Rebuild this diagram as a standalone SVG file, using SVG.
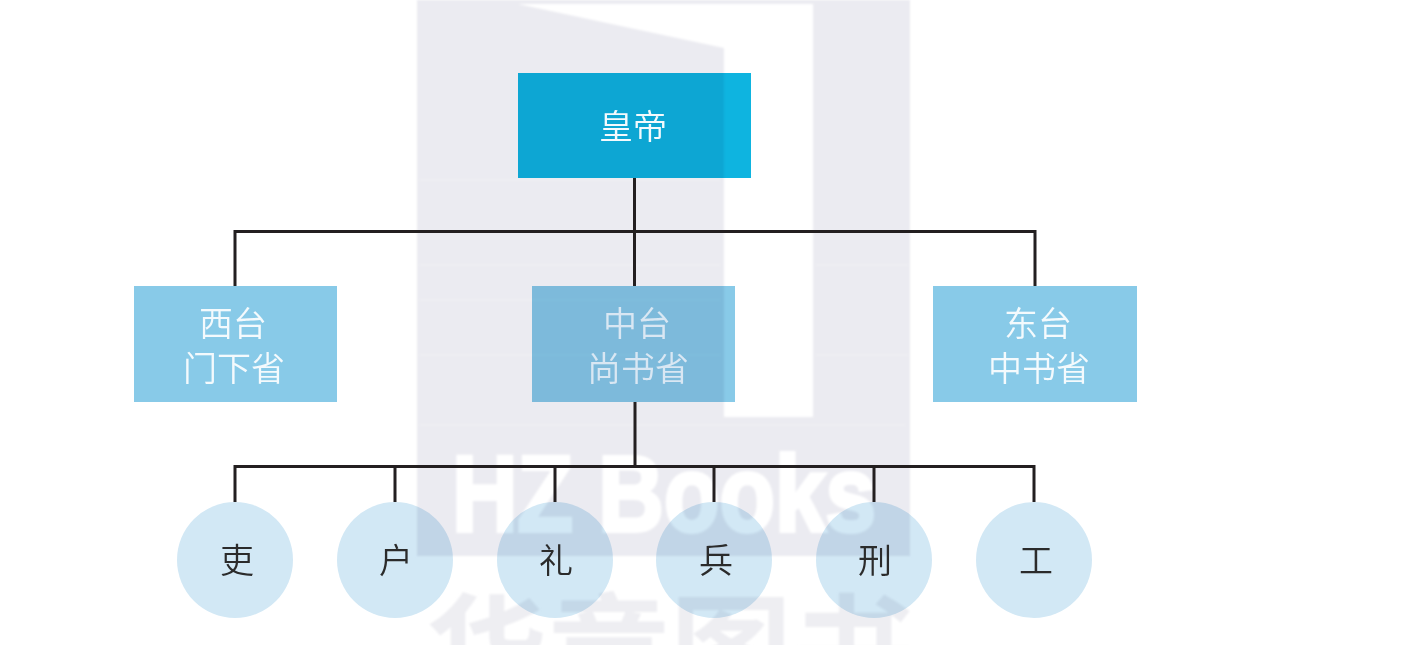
<svg xmlns="http://www.w3.org/2000/svg" width="1427" height="645" viewBox="0 0 1427 645">
<style>
text{font-family:"Noto Sans CJK SC","Noto Sans",sans-serif;font-size:34px;font-weight:350;text-anchor:middle}
.box{mix-blend-mode:multiply}
.top{fill:#0eb4e0}
.mid{fill:#88cae8}
.dep{fill:#d2e8f5}
.lt{fill:#f4fafd}
.lc{fill:#d9e7f3}
.dk{fill:#2b2b2b}
.ln{fill:none;stroke:#231f20;stroke-width:3}
.wm{fill:#eeeef2;font-weight:700}
.hz{fill:#fff;stroke:#fff;stroke-width:4;font-family:"Liberation Sans",sans-serif;font-weight:700}
.st{stroke:#f0f0f4;stroke-width:1.5}
</style>
<defs><filter id="soft"><feGaussianBlur stdDeviation="1.2"/></filter></defs>
<g id="watermark" filter="url(#soft)">
<rect x="417" y="0" width="493" height="556" fill="#ebebf1"/>
<path d="M518 4H813V417H724V48Z" fill="#fff"/>
<path class="st" d="M420 180H720M420 265H720M816 265H908M420 300H720M420 355H720M816 355H908M420 425H905"/>
<text class="hz" x="664" y="531" style="font-size:108px" textLength="424" lengthAdjust="spacingAndGlyphs">HZ Books</text>
<text class="wm" x="670" y="696" style="font-size:122px">华章图书</text>
</g>
<g id="connectors">
<path class="ln" d="M634.5 178V286M235 286V231.5H1035V286"/>
<path class="ln" d="M635 402V466.5M235 502V466.5H1034V502M395 466.5V502M555 466.5V502M714 466.5V502M874 466.5V502"/>
</g>
<g id="huangdi"><rect class="box top" x="518" y="73" width="233" height="105"/><text class="lt" x="633" y="139">皇帝</text></g>
<g id="xitai"><rect class="box mid" x="134" y="286" width="203" height="116"/><text class="lt" x="233" y="336">西台</text><text class="lt" x="234" y="381">门下省</text></g>
<g id="zhongtai"><rect class="box mid" x="532" y="286" width="203" height="116"/><text class="lc" x="637" y="336">中台</text><text class="lc" x="638" y="381">尚书省</text></g>
<g id="dongtai"><rect class="box mid" x="933" y="286" width="204" height="116"/><text class="lt" x="1038" y="336">东台</text><text class="lt" x="1039" y="381">中书省</text></g>
<g id="li"><circle class="box dep" cx="235" cy="560" r="58"/><text class="dk" x="237" y="573">吏</text></g>
<g id="hu"><circle class="box dep" cx="395" cy="560" r="58"/><text class="dk" x="396" y="573">户</text></g>
<g id="li2"><circle class="box dep" cx="555" cy="560" r="58"/><text class="dk" x="556" y="573">礼</text></g>
<g id="bing"><circle class="box dep" cx="714" cy="560" r="58"/><text class="dk" x="716" y="573">兵</text></g>
<g id="xing"><circle class="box dep" cx="874" cy="560" r="58"/><text class="dk" x="875" y="573">刑</text></g>
<g id="gong"><circle class="box dep" cx="1034" cy="560" r="58"/><text class="dk" x="1036" y="573">工</text></g>
</svg>
